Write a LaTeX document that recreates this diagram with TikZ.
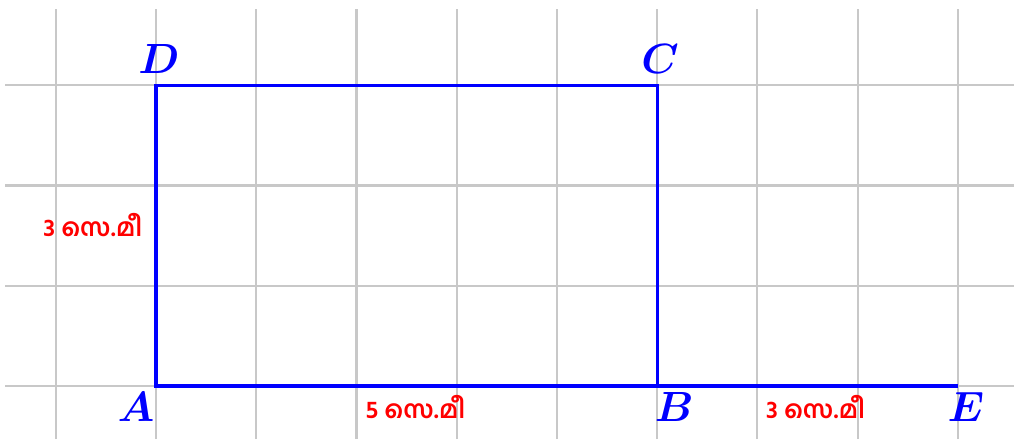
\documentclass[tikz,border=0pt]{standalone}
\usepackage{amsmath,amssymb}
\usepackage{fontspec}
\newfontfamily\malfont[Script=Malayalam]{Hind Kochi}
\usepackage{tikz}
\usetikzlibrary{positioning}
\definecolor{gl}{HTML}{C8C8C8}
\definecolor{sd}{HTML}{0000FF}
\definecolor{ms}{HTML}{FF0000}
\newcommand{\Vx}[1]{\textcolor{sd}{$\boldsymbol{#1}$}}
\newcommand{\Ms}[1]{\textcolor{ms}{\malfont\bfseries #1 സെ.മീ}}

\begin{document}
\begin{tikzpicture}
  \useasboundingbox (-1.556,-0.53) rectangle (8.56,3.85);
  % grid
  \foreach \x in {-1,...,8}
    \draw[gl, line width=0.6pt] (\x,-0.53) -- (\x,3.76);
  \foreach \y in {0,...,3}
    \draw[gl, line width=0.6pt] (-1.506,\y) -- (8.56,\y);
  \coordinate (A) at (0,0);
  \coordinate (B) at (5,0);
  \coordinate (C) at (5,3);
  \coordinate (D) at (0,3);
  \coordinate (E) at (8,0);
  \draw[sd, line width=0.9pt] (A) -- (B) -- (C) -- (D) -- cycle;
  \draw[sd, line width=0.9pt] (B) -- (E);
  \node[font=\large] (lA) at (-0.2,-0.21) {\Vx{A}};
  \node[font=\large] (lB) at (5.17,-0.21) {\Vx{B}};
  \node[font=\large] (lC) at (5.03,3.26) {\Vx{C}};
  \node[font=\large] (lD) at (0.03,3.26) {\Vx{D}};
  \node[font=\large] (lE) at (8.08,-0.21) {\Vx{E}};
  \node[font=\fontsize{7}{8}\selectfont] (mAD) at (-0.63,1.6) {\Ms{3}};
  \node[font=\fontsize{7}{8}\selectfont] (mAB) at (2.59,-0.21) {\Ms{5}};
  \node[font=\fontsize{7}{8}\selectfont] (mBE) at (6.58,-0.21) {\Ms{3}};
\end{tikzpicture}
\end{document}
